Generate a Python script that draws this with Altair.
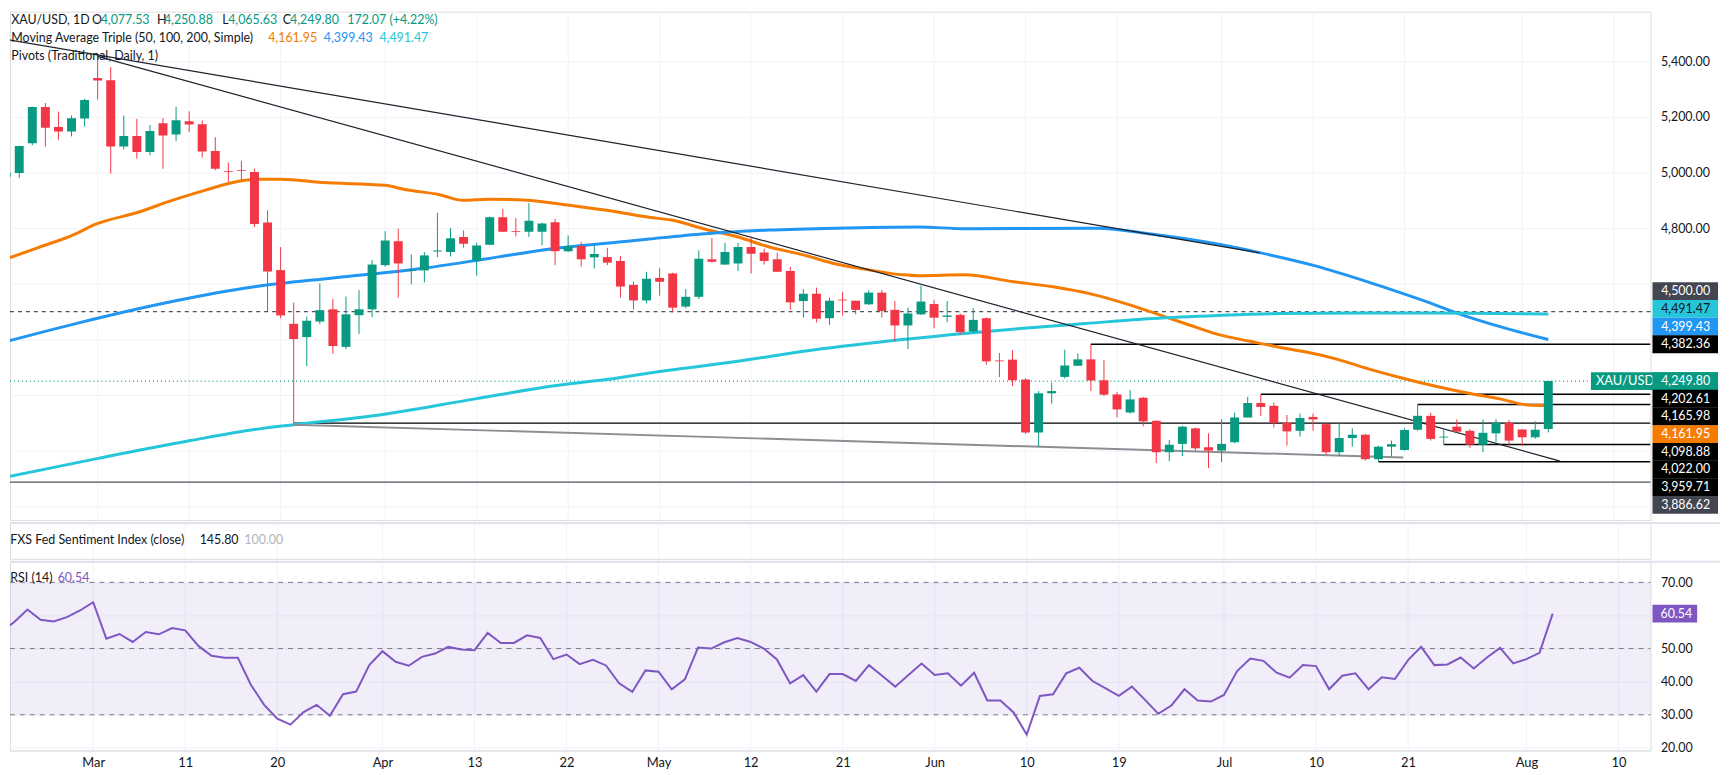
import altair as alt
import pandas as pd

# ---------------- data ----------------
OPEN = [4985,4998,5105,5236,5164,5148,5194,5340,5332,5094,
        5131,5074,5177,5137,5184,5174,5077,5005,5009,5002,
        4820,4649,4456,4408,4464,4508,4373,4487,4508,4667,
        4753,4646,4648,4716,4714,4768,4683,4740,4839,4790,
        4787,4787,4821,4717,4736,4695,4696,4682,4596,4540,
        4621,4637,4518,4553,4688,4669,4673,4732,4712,4688,
        4646,4538,4564,4476,4543,4539,4526,4568,4506,4450,
        4490,4527,4481,4488,4428,4476,4324,4327,4256,4065,
        4206,4265,4305,4328,4253,4202,4137,4190,4107,3994,
        4024,4080,4012,4000,4030,4119,4171,4161,4100,4071,
        4121,4095,3994,4045,4057,3969,4014,4002,4075,4125,
        4047,4086,4071,4021,4062,4100,4076,4048,4077.53]
HIGH = [5010,5097,5237,5250,5219,5205,5265,5417,5379,5205,
        5193,5171,5196,5236,5220,5187,5127,5036,5042,5014,
        4864,4732,4532,4482,4601,4545,4554,4577,4685,4789,
        4798,4705,4714,4855,4800,4792,4747,4842,4869,4836,
        4890,4820,4833,4774,4750,4738,4729,4700,4607,4643,
        4657,4640,4581,4720,4764,4747,4747,4771,4726,4712,
        4661,4581,4586,4550,4571,4539,4577,4577,4538,4514,
        4593,4542,4538,4494,4512,4479,4351,4361,4260,4214,
        4244,4363,4349,4382,4325,4211,4218,4193,4109,4038,
        4089,4083,4062,4113,4137,4193,4203,4173,4128,4133,
        4133,4098,4101,4080,4060,4018,4036,4080,4166,4136,
        4076,4112,4077,4112,4113,4110,4077,4105,4250.88]
LOW = [4975,4980,5098,5093,5118,5130,5165,5262,4996,5083,
       5050,5062,5014,5114,5145,5054,5008,4967,4973,4804,
       4500,4476,4099,4304,4455,4348,4365,4419,4480,4661,
       4550,4598,4605,4696,4698,4730,4629,4738,4786,4770,
       4768,4738,4667,4714,4662,4655,4667,4550,4508,4530,
       4557,4497,4512,4545,4676,4669,4646,4637,4669,4643,
       4506,4478,4461,4452,4486,4490,4524,4478,4393,4365,
       4488,4440,4462,4417,4423,4309,4264,4232,4060,4015,
       4169,4259,4305,4214,4196,4119,4133,4087,3955,3962,
       3980,4000,3937,3958,4026,4119,4125,4083,4018,4050,
       4071,3986,3979,4014,3964,3960,3979,4000,4071,4036,
       4022,4064,4010,3994,4030,4014,4017,4042,4065.63]
CLOSE = [5000,5095,5236,5161,5148,5195,5261,5331,5094,5131,
         5074,5149,5133,5188,5173,5076,5014,5002,5006,4815,
         4644,4486,4401,4467,4505,4376,4490,4508,4669,4756,
         4673,4650,4702,4720,4764,4744,4738,4839,4787,4787,
         4827,4817,4717,4735,4688,4707,4676,4590,4540,4618,
         4607,4514,4553,4690,4679,4714,4732,4708,4682,4643,
         4533,4564,4474,4539,4540,4506,4568,4502,4450,4493,
         4536,4478,4486,4426,4470,4321,4321,4253,4065,4206,
         4214,4306,4328,4252,4201,4148,4184,4105,3994,4021,
         4086,4008,4000,4024,4119,4171,4157,4099,4069,4117,
         4112,3994,4045,4057,3969,4014,4023,4074,4125,4042,
         4050,4068,4021,4064,4100,4036,4048,4075,4249.80]
RSI = [55.0,58.0,61.8,58.7,58.2,59.5,61.5,64.0,53.0,54.4,
       52.0,55.0,54.3,56.2,55.5,50.8,47.8,47.2,47.2,39.0,
       33.0,28.8,27.0,30.8,33.0,29.7,36.2,37.0,45.0,49.2,
       46.0,44.8,47.5,48.5,50.5,49.7,49.5,54.7,51.7,51.7,
       54.0,53.2,46.8,48.2,45.3,46.6,44.9,39.5,36.9,43.4,
       43.0,37.7,40.7,50.3,50.0,51.9,53.2,52.0,50.0,46.7,
       39.5,42.0,37.0,42.3,42.3,40.2,45.0,41.8,38.5,42.0,
       45.5,42.0,42.5,38.8,42.7,34.3,34.3,30.7,24.0,35.7,
       36.2,42.5,44.2,40.2,38.0,35.7,38.5,34.5,30.3,32.8,
       37.7,34.3,34.0,36.0,43.2,47.0,46.3,42.7,41.2,45.0,
       44.7,37.7,41.8,42.5,37.7,41.3,40.8,46.5,50.5,45.0,
       45.2,47.3,44.0,47.3,50.2,45.5,46.8,48.7,60.54]

MA50_I = [0.07,2.56,5.1,6.9,10.1,12.7,15.2,17.7,19.2,21,24.2,29,30.5,33.1,35,36.9,39.9,43.1,46.9,49.2,
          50.9,53.5,56,58.4,61,63.5,66,68.6,69.8,73.3,77.1,80.1,83.2,85.9,88.2,90.2,92.7,95.2,97.5,99.2,
          101.8,104.3,106.8,109.3,111.8,114.3,116.4,118]
MA50_V = [4690,4732,4775,4815,4857,4900,4936,4968,4976,4976,4964,4954,4939,4921,4900,4904,4900,4882,4857,4839,
          4829,4796,4768,4732,4704,4671,4650,4632,4629,4632,4607,4589,4561,4525,4489,4457,4418,4393,4371,4357,
          4329,4293,4261,4232,4207,4186,4164,4161.95]
MA100_I = [0.07,5.1,12.7,19,25,31.8,36.8,41.8,46.9,49.2,53.5,58.4,63.5,69.8,73.3,83.5,87.6,91.8,96,100.1,
           104.3,108.4,111.8,114.3,118]
MA100_V = [4393,4454,4536,4589,4621,4655,4690,4726,4750,4761,4780,4793,4800,4804,4798,4800,4779,4750,4711,4665,
           4605,4540,4482,4446,4399.43]
MA200_I = [0.07,6.94,14.1,19.5,22,28.1,35.9,41.8,46.9,49.2,56,61,66,73.3,77.6,82.6,87.7,92.7,97.5,104,111.8,118]
MA200_V = [3905,3971,4036,4079,4093,4125,4186,4232,4262,4279,4321,4357,4386,4421,4439,4457,4475,4486,4493,4495,
           4494,4491.47]

TICK_IDX = [7,14,21,29,36,43,50,57,64,71,78,85,93,100,107,116,123]
TICK_LBL = ["Mar","11","20","Apr","13","22","May","12","21","Jun","10","19","Jul","10","21","Aug","10"]

PIVOT_LEVEL = [4382.36, 4202.61, 4165.98, 4098.88, 4022.00, 3959.71]
PIVOT_FROM = [83, 96, 108, 22, 110, 105]
BASE_LEVEL = 3886.62
ROUND_LEVEL = 4500.00

TREND_NAME = ["a", "a", "b", "b", "c", "c"]
TREND_I = [0.07, 95.9, 7, 118.9, 22, 106.9]
TREND_P = [5478.6, 4711, 5418, 3962, 4093, 3975]

# ---------------- styling / layout ----------------
FONT = "Lato"
FS = 12.5
TXT = "#131722"
GREEN = "#089981"
RED = "#F23645"
ORANGE = "#F57C00"
BLUE = "#2196F3"
TEAL = "#26C6DA"
PURPLE = "#7E57C2"
GRID = "#F0F3FA"
SEP = "#E0E3EB"

W = 1652
H_PRICE, H_FXS, H_RSI = 512, 36, 190
X_DOM = [0.672, 125.44]
P_DOM = [3750.0, 5578.6]
R_DOM = [19.21, 76.21]

xs = alt.Scale(domain=X_DOM, nice=False, zero=False)
ps = alt.Scale(domain=P_DOM, nice=False, zero=False)
rs = alt.Scale(domain=R_DOM, nice=False, zero=False)

P_AXIS = alt.Axis(orient="right", values=list(range(3800, 5601, 200)), format=",.2f", grid=True,
                  gridColor=GRID, ticks=False, domain=False, labelFont=FONT, labelFontSize=FS,
                  labelColor=TXT, labelPadding=10, title=None, labelOverlap=False,
                  labelExpr="datum.value >= 4800 ? datum.label : ''")
R_AXIS = alt.Axis(orient="right", values=[20, 30, 40, 50, 60, 70], format=".2f", grid=True,
                  gridColor=GRID, ticks=False, domain=False, labelFont=FONT, labelFontSize=FS,
                  labelColor=TXT, labelPadding=10, title=None, labelOverlap=False,
                  labelExpr="datum.value == 60 ? '' : datum.label")
lbl_expr = " : ".join(f"datum.value == {k} ? '{v}'" for k, v in zip(TICK_IDX, TICK_LBL)) + " : ''"
X_AXIS = alt.Axis(values=TICK_IDX, labelExpr=lbl_expr, grid=False, ticks=False, domain=True,
                  domainColor=SEP, domainWidth=1, labelFont=FONT, labelFontSize=13, labelColor=TXT,
                  labelPadding=6, title=None, labelOverlap=False)


def PX(field="i"):
    return alt.X(f"{field}:Q", scale=xs, axis=None, title=None)


def PY(field):
    return alt.Y(f"{field}:Q", scale=ps, axis=P_AXIS, title=None)


def RX(field="i"):
    return alt.X(f"{field}:Q", scale=xs, axis=X_AXIS, title=None)


def RY(field):
    return alt.Y(f"{field}:Q", scale=rs, axis=R_AXIS, title=None)


def RAW(field):
    return alt.Color(f"{field}:N", scale=None, legend=None)


one = pd.DataFrame({"k": [0]})
ticks_df = pd.DataFrame({"i": TICK_IDX})

# ---------------- price panel ----------------
N = len(CLOSE)
cdf = pd.DataFrame({"i": list(range(N)), "o": OPEN, "h": HIGH, "l": LOW, "c": CLOSE})
cdf["col"] = [GREEN if c >= o else RED for o, c in zip(OPEN, CLOSE)]

vgrid_p = alt.Chart(ticks_df).mark_rule(color=GRID, strokeWidth=1).encode(x=PX())

piv = pd.DataFrame({"p": PIVOT_LEVEL, "i": PIVOT_FROM})
pivots = alt.Chart(piv).mark_rule(color="#000000", strokeWidth=1.4, clip=True).encode(
    x=PX(), x2=alt.value(W), y=PY("p"))
base_line = alt.Chart(pd.DataFrame({"p": [BASE_LEVEL]})).mark_rule(color="#50535E", strokeWidth=1.4).encode(
    x=alt.value(0), x2=alt.value(W), y=PY("p"))
round_line = alt.Chart(pd.DataFrame({"p": [ROUND_LEVEL]})).mark_rule(
    color="#50535E", strokeWidth=1.2, strokeDash=[4, 4]).encode(x=alt.value(0), x2=alt.value(W), y=PY("p"))
close_line = alt.Chart(pd.DataFrame({"p": [CLOSE[-1]]})).mark_rule(
    color=GREEN, strokeWidth=1.2, strokeDash=[1, 3]).encode(x=alt.value(0), x2=alt.value(W), y=PY("p"))

tdf = pd.DataFrame({"line": TREND_NAME, "i": TREND_I, "p": TREND_P})
tdf["col"] = tdf["line"].map({"a": "#1E222D", "b": "#1E222D", "c": "#8C8E94"})
tdf["sw"] = tdf["line"].map({"a": 1.2, "b": 1.2, "c": 2.0})
trends = alt.Chart(tdf).mark_line(clip=True).encode(
    x=PX(), y=PY("p"), detail="line:N", color=RAW("col"),
    strokeWidth=alt.StrokeWidth("sw:Q", scale=None, legend=None))

ma_df = pd.concat([
    pd.DataFrame({"ma": "50", "i": MA50_I, "p": MA50_V, "col": ORANGE}),
    pd.DataFrame({"ma": "100", "i": MA100_I, "p": MA100_V, "col": BLUE}),
    pd.DataFrame({"ma": "200", "i": MA200_I, "p": MA200_V, "col": TEAL}),
])
mas = alt.Chart(ma_df).mark_line(interpolate="monotone", strokeWidth=3, clip=True).encode(
    x=PX(), y=PY("p"), detail="ma:N", color=RAW("col"))

wicks = alt.Chart(cdf).mark_rule(strokeWidth=1, clip=True).encode(x=PX(), y=PY("l"), y2="h:Q", color=RAW("col"))
bodies = alt.Chart(cdf).mark_bar(size=9, clip=True).encode(x=PX(), y=PY("o"), y2="c:Q", color=RAW("col"))

# right-hand price labels, stacked so they do not overlap
LABELS = [(4500.00, "#434651", "#FFFFFF"), (4491.47, TEAL, TXT), (4399.43, BLUE, "#FFFFFF"),
          (4382.36, "#000000", "#FFFFFF"), (CLOSE[-1], GREEN, "#FFFFFF"),
          (4202.61, "#000000", "#FFFFFF"), (4165.98, "#000000", "#FFFFFF"), (4161.95, ORANGE, "#FFFFFF"),
          (4098.88, "#000000", "#FFFFFF"), (4022.00, "#000000", "#FFFFFF"), (3959.71, "#000000", "#FFFFFF"),
          (3886.62, "#434651", "#FFFFFF")]
px_per_unit = H_PRICE / (P_DOM[1] - P_DOM[0])
step = 17.8 / px_per_unit
anchor = 4
pos = [v for v, _, _ in LABELS]
for j in range(anchor - 1, -1, -1):
    pos[j] = max(pos[j], pos[j + 1] + step)
for j in range(anchor + 1, len(pos)):
    pos[j] = min(pos[j], pos[j - 1] - step)
ldf = pd.DataFrame({"pos": pos, "txt": [f"{v:,.2f}" for v, _, _ in LABELS],
                    "bg": [b for _, b, _ in LABELS], "fg": [f for _, _, f in LABELS]})
sym_box = alt.Chart(pd.DataFrame({"pos": [pos[anchor]]})).mark_rect(yOffset=-9, y2Offset=9, color=GREEN).encode(
    x=alt.value(1592), x2=alt.value(1720), y=PY("pos"), y2="pos:Q")
sym_txt = alt.Chart(pd.DataFrame({"pos": [pos[anchor]]})).mark_text(
    text="XAU/USD", align="left", baseline="middle", font=FONT, fontSize=13, color="#FFFFFF").encode(
    x=alt.value(1597), y=PY("pos"))
lab_box = alt.Chart(ldf).mark_rect(yOffset=-9, y2Offset=9).encode(
    x=alt.value(W + 2), x2=alt.value(1720), y=PY("pos"), y2="pos:Q", color=RAW("bg"))
lab_txt = alt.Chart(ldf).mark_text(align="right", baseline="middle", font=FONT, fontSize=FS).encode(
    x=alt.value(1712), y=PY("pos"), text="txt:N", color=RAW("fg"))


def txt(s, x, y, color=TXT, size=FS):
    return alt.Chart(one).mark_text(text=s, align="left", baseline="middle", font=FONT, fontSize=size,
                                    color=color).encode(x=alt.value(x), y=alt.value(y))


header = [
    txt("XAU/USD, 1D", 1.3, 8), txt("O", 82.7, 8), txt("4,077.53", 91.3, 8, GREEN),
    txt("H", 148, 8), txt("4,250.88", 155, 8, GREEN), txt("L", 213.7, 8), txt("4,065.63", 219.7, 8, GREEN),
    txt("C", 274.7, 8), txt("4,249.80", 282, 8, GREEN), txt("172.07 (+4.22%)", 339.7, 8, GREEN),
    txt("Moving Average Triple (50, 100, 200, Simple)", 1.3, 26.7), txt("4,161.95", 260, 26.7, ORANGE),
    txt("4,399.43", 316, 26.7, BLUE), txt("4,491.47", 372, 26.7, TEAL),
    txt("Pivots (Traditional, Daily, 1)", 1.3, 44.7),
]

price = alt.layer(vgrid_p, base_line, round_line, pivots, close_line, mas, trends,
                  wicks, bodies, sym_box, sym_txt, lab_box, lab_txt, *header).properties(
    width=W, height=H_PRICE)

# ---------------- FXS panel (empty) ----------------
sep = alt.Chart(one).mark_rule(color=SEP, strokeWidth=2).encode(
    x=alt.value(0), x2=alt.value(1722), y=alt.value(0))
vgrid_f = alt.Chart(ticks_df).mark_rule(color=GRID, strokeWidth=1).encode(x=PX())
fxs = alt.layer(
    vgrid_f, sep,
    txt("FXS Fed Sentiment Index (close)", 0.3, 16.7), txt("145.80", 191, 16.7),
    txt("100.00", 236, 16.7, "#B2B5BE"),
).properties(width=W, height=H_FXS)

# ---------------- RSI panel ----------------
rdf = pd.DataFrame({"i": list(range(N)), "r": RSI})
vgrid_r = alt.Chart(ticks_df).mark_rule(color=GRID, strokeWidth=1).encode(x=RX())
band = alt.Chart(pd.DataFrame({"lo": [30], "hi": [70]})).mark_rect(color=PURPLE, opacity=0.1).encode(
    x=alt.value(0), x2=alt.value(W), y=RY("lo"), y2="hi:Q")
levels = alt.Chart(pd.DataFrame({"r": [70, 50, 30]})).mark_rule(
    color="#787B86", strokeWidth=1, strokeDash=[5, 5]).encode(x=alt.value(0), x2=alt.value(W), y=RY("r"))
rsi_line = alt.Chart(rdf).mark_line(color=PURPLE, strokeWidth=2, clip=True).encode(x=RX(), y=RY("r"))
rsi_box = alt.Chart(pd.DataFrame({"r": [RSI[-1]]})).mark_rect(yOffset=-9, y2Offset=9, color=PURPLE).encode(
    x=alt.value(W + 2), x2=alt.value(W + 47), y=RY("r"), y2="r:Q")
rsi_lab = alt.Chart(pd.DataFrame({"r": [RSI[-1]], "t": [f"{RSI[-1]:.2f}"]})).mark_text(
    align="left", baseline="middle", font=FONT, fontSize=FS, color="#FFFFFF").encode(
    x=alt.value(W + 10), y=RY("r"), text="t:N")
rsi = alt.layer(
    vgrid_r, band, levels, rsi_line, sep, rsi_box, rsi_lab,
    txt("RSI (14)", 0.3, 16.7), txt("60.54", 48, 16.7, PURPLE),
).properties(width=W, height=H_RSI)

chart = alt.vconcat(price, fxs, rsi, spacing=0).properties(padding=0).configure_view(
    stroke=None).configure(background="#FFFFFF")

chart.save("out.html", embed_options={"renderer": "svg", "actions": False})
